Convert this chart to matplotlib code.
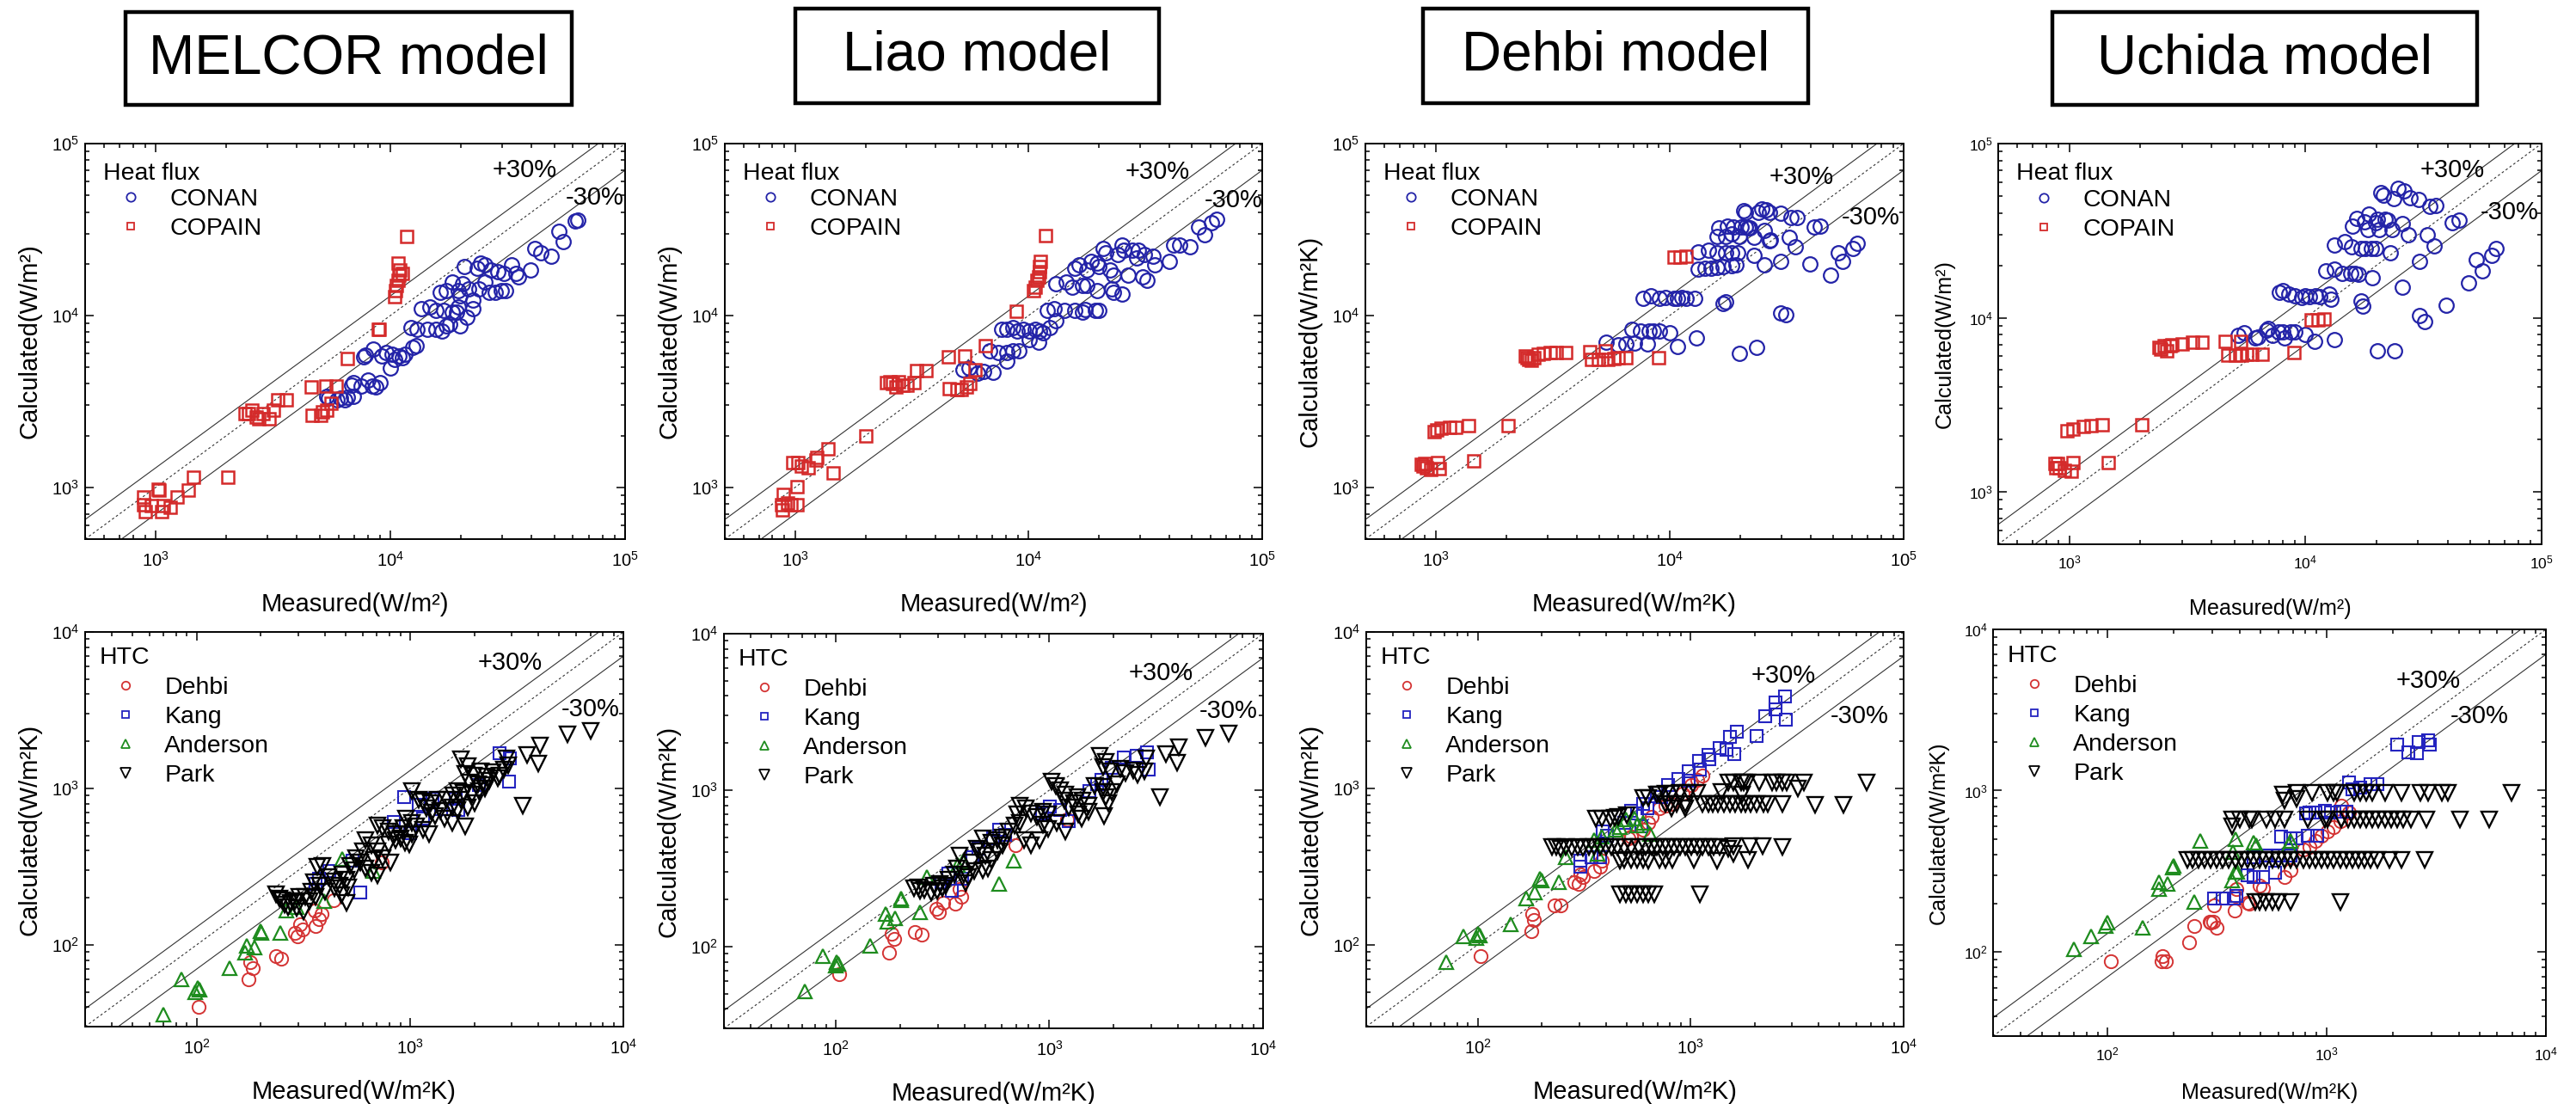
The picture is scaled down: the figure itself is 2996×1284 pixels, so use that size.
import matplotlib
matplotlib.use("Agg")
import matplotlib.pyplot as plt
from matplotlib.lines import Line2D
from matplotlib.patches import Rectangle
from matplotlib.ticker import LogLocator, NullFormatter, LogFormatterSciNotation

plt.rcParams["font.family"] = ["Liberation Sans", "DejaVu Sans"]
plt.rcParams["mathtext.fontset"] = "custom"
plt.rcParams["mathtext.rm"] = "Liberation Sans"
plt.rcParams["mathtext.it"] = "Liberation Sans:italic"
plt.rcParams["mathtext.bf"] = "Liberation Sans:bold"
plt.rcParams["mathtext.default"] = "regular"

# ------------------------------------------------------------------ data
MODEL_TITLES = ["MELCOR model", "Liao model", "Dehbi model", "Uchida model"]
HF_SERIES = ["CONAN", "COPAIN"]
HTC_SERIES = ["Dehbi", "Kang", "Anderson", "Park"]
HF_LIMITS = (5e2, 1e5)
HTC_LIMITS = (30, 1e4)
BAND_FACTORS = [1.3, 1.0, 0.7]
BAND_LABELS = ["+30%", "-30%"]

# (measured, calculated) pairs
MELCOR_HF_CONAN = [
    (5350, 3400), (5450, 3320), (5910, 3240), (6150, 3320), (6410, 3240), (6540, 3360), (6950, 3400),
    (6810, 3910), (6950, 4060), (7530, 3870), (8010, 4190), (8340, 3870), (8680, 3820), (9040, 4060),
    (7690, 5750), (7850, 5910), (8440, 6400), (9220, 5820), (9600, 6100), (10200, 5970), (10420, 5560),
    (10840, 5820), (11520, 5970), (10000, 4940), (11290, 5690),
    (12490, 6550), (12840, 6710), (12240, 8490), (13000, 8280), (14390, 8280), (15600, 8280), (16570, 8080),
    (17250, 8690), (17950, 8890), (19870, 8690), (13540, 11000), (14680, 11250), (15600, 10730), (16900, 10730),
    (18310, 10480), (19080, 10480), (19460, 11250), (21110, 9770), (22440, 11000),
    (16250, 13580), (17250, 13890), (18310, 15630), (19460, 13890), (19870, 12950), (20270, 15270), (21540, 14220),
    (22440, 12360), (23830, 14220), (25330, 15630), (26380, 13580), (28020, 13580), (29780, 13890), (30990, 13890),
    (20690, 19310), (23360, 18860), (24320, 20240), (25330, 19770), (26910, 18420), (28590, 17990), (30380, 17570),
    (32940, 19770), (34300, 17570), (34990, 16760), (39470, 18420), (41100, 24440), (43670, 23290), (48290, 22230),
    (52340, 30920), (54550, 26830), (61530, 35560), (62800, 35900)]
MELCOR_HF_COPAIN = [
    (890, 880), (890, 790), (900, 720), (960, 780), (1020, 980), (1030, 960), (1060, 720), (1080, 780),
    (1150, 770), (1230, 880), (1380, 960), (1450, 1150), (2030, 1150),
    (2410, 2700), (2480, 2680), (2580, 2800), (2690, 2560), (2750, 2500), (2860, 2700), (3040, 2500),
    (3160, 2800), (3320, 3240), (3610, 3240),
    (4600, 3820), (4640, 2620), (5030, 2620), (5140, 2750), (5300, 3900), (5350, 2800), (5590, 3090), (5870, 3870),
    (6540, 5640), (8900, 8300), (8950, 8300),
    (10400, 12900), (10500, 13900), (10600, 14900), (10800, 16000), (10900, 17200), (11000, 18400),
    (11200, 17500), (10800, 20200), (11750, 28800)]

LIAO_HF_CONAN = [
    (5236, 4830), (5567, 4940), (6042, 4600), (6417, 4710), (7046, 4670),
    (6820, 6250), (7397, 6100), (8030, 6100), (8537, 6250), (9075, 6250), (8030, 5430),
    (7636, 8280), (8030, 8280), (8537, 8490), (8895, 8080), (9447, 8280), (10040, 8080), (10670, 8280),
    (11110, 8080), (10040, 7200), (11030, 7030), (11480, 7900),
    (12300, 8490), (13080, 9320), (12060, 10730), (12820, 10990), (14190, 10730), (15710, 10730),
    (17040, 10480), (17400, 10880), (19250, 10730), (20040, 10730),
    (13080, 15270), (14490, 15630), (15390, 14560), (17040, 14900), (17740, 14900), (19630, 14030),
    (22620, 14220), (23100, 13580), (25070, 13250),
    (15710, 18860), (16370, 19770), (17740, 18420), (18490, 20720), (19630, 20240), (20040, 19310),
    (20870, 24440), (21310, 23290), (22210, 18420), (23100, 17170), (24080, 22750), (25070, 25600),
    (25600, 23870), (26670, 17170), (27760, 23870), (28920, 21710), (29510, 23870), (30740, 16760),
    (31370, 22750), (31990, 15990), (34020, 22230), (34730, 19770), (40020, 20720), (41690, 25600),
    (44330, 25600), (49090, 25000), (53230, 32690), (56600, 29450), (60860, 34730), (63950, 36390)]
LIAO_HF_COPAIN = [
    (874, 790), (885, 740), (892, 910), (929, 810), (960, 790), (1016, 790), (1016, 1010), (976, 1390),
    (1029, 1400), (1063, 1330), (1140, 1300), (1225, 1450), (1236, 1490), (1385, 1680), (1454, 1210),
    (2014, 2000), (2470, 4060), (2550, 4100), (2620, 4000), (2700, 3820), (2770, 4100), (2900, 3940),
    (3025, 3910), (3216, 4060), (3306, 4760), (3631, 4760), (4544, 5750), (4579, 3760), (4929, 3730),
    (5134, 3730), (5302, 5820), (5409, 3850), (5609, 4000), (5869, 4830), (6548, 6710), (8888, 10580),
    (10450, 13890), (10670, 14560), (10890, 15990), (11000, 16760), (11110, 17990), (11150, 19310),
    (11200, 20720), (11810, 29180)]

DEHBI_HF_CONAN = [
    (5333, 7030), (6025, 6770), (6484, 6870), (7086, 6940), (8003, 6870), (10840, 6610), (13010, 7440),
    (19920, 6030), (23440, 6550),
    (6890, 8280), (7530, 8080), (8160, 8080), (8504, 8080), (9036, 8080), (10000, 7900),
    (7690, 12650), (8330, 12950), (9036, 12650), (9602, 12770), (10410, 12650), (10840, 12650),
    (11290, 12770), (11760, 12650), (12750, 12530), (16940, 11790), (17290, 12070),
    (29870, 10330), (31480, 10140),
    (13280, 18580), (14120, 18860), (15010, 18860), (15940, 19140), (16940, 19310), (18370, 19590),
    (19140, 19770), (25420, 19770), (29870, 20720), (39690, 20040), (48640, 17170), (52730, 23070),
    (54860, 20720), (60660, 24440), (63190, 26430),
    (13280, 23510), (14700, 23870), (15940, 23070), (17290, 23290), (18370, 23290), (19520, 23070),
    (22970, 22440), (26990, 27460), (32410, 28380), (34410, 25000),
    (15940, 28790), (16260, 32360), (17290, 28790), (17640, 33120), (18370, 29730), (18750, 32690),
    (19920, 28790), (20170, 32690), (21010, 32690), (21620, 32360), (22050, 32360), (22970, 28510),
    (25420, 31190), (26790, 27340),
    (20750, 40930), (21010, 39970), (23920, 39970), (24700, 41690), (25730, 41310), (26790, 39970),
    (29870, 39460), (33060, 37240), (35140, 37240), (41350, 32690), (43940, 33120)]
DEHBI_HF_COPAIN = [
    (868, 1360), (878, 1325), (896, 1380), (915, 1295), (952, 1265), (1020, 1400), (1033, 1280), (1458, 1420),
    (980, 2120), (1012, 2170), (1054, 2220), (1143, 2240), (1215, 2240), (1384, 2280), (2033, 2300),
    (2420, 5820), (2449, 5690), (2500, 5560), (2571, 5480), (2622, 5690), (2733, 5970), (2883, 6030),
    (3085, 6100), (3280, 6100), (3586, 6100),
    (4541, 6160), (4629, 5560), (4956, 5560), (5293, 6250), (5444, 5560), (5784, 5640), (6025, 5690),
    (6484, 5690), (8957, 5690), (10410, 21900), (11070, 21900), (11760, 22200)]

UCHIDA_HF_CONAN = [
    (5164, 7920), (5484, 8190), (6108, 7670), (6310, 7740), (6834, 8500), (6971, 8690), (7256, 7920),
    (7711, 8300), (8017, 8300), (8185, 7670), (8624, 8300), (9054, 8300), (10000, 8040), (10960, 7310),
    (13230, 7480),
    (7766, 14060), (8017, 14330), (8516, 13670), (9054, 13420), (9616, 13040), (10000, 13420),
    (10400, 13220), (11040, 13420), (11500, 13220), (12560, 13670), (12870, 12800),
    (17170, 12450), (17510, 11660), (19200, 16930), (20160, 6490), (23840, 6430), (25630, 15010),
    (30310, 10330), (31920, 9545), (39510, 11780), (48990, 15930),
    (12210, 18560), (13230, 18930), (14340, 18060), (15540, 18060), (16180, 18060), (16830, 17730),
    (13230, 26230), (14630, 27480), (15720, 25410), (17170, 25060), (17870, 25060), (18980, 25060),
    (19760, 25060), (22910, 23680), (35000, 25990),
    (15850, 33570), (16490, 37400), (17730, 35700), (18600, 39170), (18450, 32040), (19760, 35230),
    (20160, 36900), (20560, 32040), (21830, 36900), (22270, 36390), (23180, 32040), (25630, 34700),
    (27200, 29920), (30310, 21090), (32870, 29920), (41810, 35230), (44550, 36390),
    (20810, 52350), (21400, 50620), (23650, 48080), (24600, 55380), (26140, 53580), (27750, 48780),
    (30040, 47670), (33640, 43450), (35560, 44050),
    (52680, 21580), (55950, 18560), (61350, 22820), (64370, 25060)]
UCHIDA_HF_COPAIN = [
    (869, 1450), (880, 1380), (894, 1460), (905, 1370), (953, 1330), (1020, 1315), (1033, 1480), (1463, 1480),
    (980, 2250), (1041, 2300), (1150, 2380), (1236, 2390), (1377, 2415), (2030, 2440),
    (2395, 6730), (2442, 6580), (2513, 6890), (2594, 6430), (2667, 6890), (2721, 6990), (3006, 7050),
    (3323, 7215), (3633, 7215),
    (4581, 7310), (4674, 6120), (5061, 6070), (5333, 7310), (5375, 6070), (5639, 6180), (5937, 6180),
    (6564, 6180), (8970, 6280), (10530, 9680), (11280, 9770), (11970, 9860)]

MELCOR_HTC_DEHBI = [
    (102, 40), (175, 60), (178, 78), (183, 71), (236, 85), (250, 82), (290, 119), (298, 113), (305, 135),
    (315, 125), (360, 132), (376, 146), (385, 158), (357, 166), (440, 194), (735, 336)]
MELCOR_HTC_KANG = [
    (584, 216), (2620, 1680), (2930, 1560), (2910, 1110), (2100, 1050), (1640, 860), (1680, 730), (840, 610),
    (940, 880), (1100, 790), (1150, 640), (540, 345), (420, 295), (376, 266), (360, 246), (1000, 520),
    (1280, 856), (1400, 733)]
MELCOR_HTC_ANDERSON = [
    (70, 36), (85, 60), (98, 50), (101, 53), (103, 52), (143, 71), (169, 89), (171, 99), (186, 96),
    (200, 123), (201, 119), (246, 119), (263, 166), (294, 175), (394, 190), (481, 354), (673, 295)]
MELCOR_HTC_PARK = [
    (7000, 2330), (5460, 2220), (4060, 1875), (3530, 1630), (4000, 1440), (3375, 780), (1811, 569),
    (1729, 1530), (1866, 1380), (1811, 1240), (1986, 1210), (2147, 1290), (2285, 1190), (2432, 1270),
    (2630, 1210), (2754, 1320), (2885, 1410), (2840, 1560), (1897, 1090), (2081, 1070), (2249, 1050),
    (2356, 1120), (2588, 1160), (1675, 960), (1783, 940), (1958, 920), (2113, 960), (2249, 1000),
    (1599, 900), (1729, 850), (1866, 760), (2017, 810), (1575, 760), (1675, 730), (1019, 960), (1101, 850),
    (1154, 830), (1247, 810), (1348, 850), (1480, 850), (1390, 720), (1306, 670), (1456, 645), (1575, 606),
    (1190, 750), (1267, 700), (957, 645), (1019, 606), (1067, 570), (1154, 545), (1227, 512), (1019, 512),
    (928, 556), (702, 580), (746, 556), (794, 533), (845, 512), (900, 480), (943, 451), (859, 470),
    (988, 441), (794, 441), (620, 470), (659, 433), (702, 397), (746, 357), (807, 336), (680, 350),
    (601, 397), (556, 357), (582, 336), (620, 308), (659, 290), (702, 278), (522, 321), (547, 302),
    (483, 283), (506, 260), (514, 234), (469, 239), (441, 230), (389, 321), (366, 315), (414, 272),
    (441, 255), (354, 250), (377, 239), (401, 220), (343, 220), (323, 202), (303, 202), (290, 190),
    (276, 186), (259, 182), (244, 198), (236, 211), (252, 194), (268, 175), (294, 171), (318, 164),
    (338, 190), (360, 202), (475, 207), (506, 186)]

LIAO_HTC_DEHBI = [
    (104, 67), (177, 91), (182, 121), (188, 112), (234, 124), (252, 119), (296, 174), (305, 165),
    (319, 190), (364, 188), (386, 209), (381, 232), (692, 443), (1205, 653)]
LIAO_HTC_KANG = [
    (312, 257), (338, 293), (349, 226), (389, 271), (435, 370), (465, 421), (543, 491), (580, 559),
    (620, 517), (1008, 783), (1127, 744), (1537, 990), (1680, 1098), (1755, 1157), (1960, 1386),
    (2238, 1619), (2556, 1662), (2856, 1750), (2918, 1352), (1231, 637), (923, 706)]
LIAO_HTC_ANDERSON = [
    (72, 52), (87, 87), (100, 76), (101, 80), (103, 78), (145, 101), (172, 161), (174, 145), (189, 151),
    (202, 204), (203, 198), (248, 165), (267, 278), (372, 333), (395, 351), (580, 251), (684, 355)]
LIAO_HTC_PARK = [
    (6898, 2314), (5393, 2172), (4027, 1875), (3965, 1489), (3505, 1690), (3297, 900), (1807, 685),
    (1726, 1655), (1835, 1521), (1780, 1399), (1923, 1313), (2142, 1370), (2277, 1286), (2459, 1342),
    (2576, 1259), (2782, 1313), (2825, 1586), (1022, 1134), (1070, 1065), (1121, 1000), (1192, 939),
    (1348, 900), (1434, 863), (1525, 794), (1307, 828), (1229, 778), (1174, 863), (1622, 1065),
    (1780, 1050), (1950, 979), (2074, 1087), (1835, 900), (1893, 828), (1412, 658), (1525, 730),
    (1370, 700), (1780, 979), (728, 794), (774, 762), (823, 714), (876, 671), (932, 604), (991, 568),
    (1087, 618), (1192, 545), (903, 480), (823, 442), (763, 480), (706, 700), (728, 618), (685, 592),
    (644, 545), (606, 500), (569, 480), (535, 460), (488, 490), (459, 424), (473, 406), (503, 381),
    (535, 358), (518, 315), (488, 309), (444, 303), (418, 278), (399, 290), (381, 381), (370, 315),
    (358, 290), (337, 267), (317, 235), (298, 226), (280, 221), (259, 230), (244, 240), (233, 235),
    (248, 226), (289, 245), (307, 251), (327, 245), (405, 256), (432, 344), (606, 442), (569, 406),
    (991, 700), (932, 730)]

DEHBI_HTC_DEHBI = [
    (103, 85), (178, 123), (180, 158), (183, 144), (230, 178), (244, 178), (285, 250), (298, 244),
    (303, 283), (312, 273), (353, 296), (376, 315), (383, 345), (511, 480), (527, 491), (596, 545),
    (634, 605), (654, 659), (717, 748), (763, 780), (811, 796), (917, 923), (1006, 1048), (1070, 1140),
    (1138, 1211)]
DEHBI_HTC_KANG = [
    (2781, 3870), (2494, 3560), (2241, 2900), (2494, 3200), (2798, 2740), (1647, 2310), (1524, 2130),
    (2042, 2160), (1369, 1810), (1479, 1770), (1607, 1650), (1210, 1630), (1097, 1500), (1229, 1530),
    (976, 1290), (1104, 1320), (877, 1150), (976, 1120), (787, 1050), (695, 940), (728, 885), (596, 800),
    (624, 750), (561, 690), (527, 720), (488, 605), (588, 570), (406, 500), (387, 530), (303, 343),
    (303, 315), (376, 365), (343, 365)]
DEHBI_HTC_ANDERSON = [
    (71, 78), (86, 113), (99, 110), (100, 117), (102, 115), (143, 136), (169, 198), (185, 215),
    (197, 266), (200, 259), (240, 250), (260, 365), (364, 381), (353, 470), (382, 491), (445, 545),
    (466, 568), (495, 631), (543, 644), (561, 581), (644, 512), (596, 605)]
DEHBI_HTC_PARK = [
    (1501, 1090), (1595, 1090), (1724, 1090), (1778, 1090), (1835, 1090), (2107, 1090), (2422, 1090),
    (2537, 1090), (2693, 1090), (2823, 1090), (3194, 1000), (3395, 1090), (6677, 1090),
    (596, 870), (634, 870), (695, 920), (717, 920), (763, 930), (811, 930), (889, 940), (976, 940),
    (1070, 940), (1390, 950), (1750, 920),
    (763, 800), (799, 800), (863, 800), (946, 800), (1138, 800), (1210, 800), (1268, 800), (1348, 800),
    (1433, 800), (1524, 800), (1621, 800), (1724, 800), (1806, 800), (1920, 800), (2042, 800), (2207, 800),
    (2310, 800), (2693, 800), (3837, 790), (5221, 790), (811, 750), (946, 750),
    (359, 640), (382, 640), (419, 640), (439, 650), (459, 660), (500, 676),
    (223, 420), (233, 420), (244, 410), (260, 420), (276, 415), (294, 420), (312, 415), (332, 420),
    (353, 425), (376, 420), (400, 425), (425, 420), (452, 425), (488, 420), (527, 425), (569, 425),
    (615, 420), (654, 425), (695, 420), (739, 425), (787, 425), (836, 420), (889, 425), (946, 425),
    (1006, 425), (1070, 425), (1138, 420), (1210, 425), (1287, 420), (1369, 420), (1501, 410),
    (1595, 430), (1891, 430), (2173, 430), (2693, 420),
    (466, 345), (488, 350), (527, 350), (561, 350), (596, 350), (634, 345), (717, 350), (763, 350),
    (824, 350), (1038, 350), (1327, 345), (1595, 382), (1862, 350),
    (466, 211), (495, 211), (527, 211), (561, 211), (596, 211), (634, 211), (674, 211), (1104, 211)]

UCHIDA_HTC_DEHBI = [
    (103, 87), (176, 87), (178, 94), (184, 87), (235, 115), (249, 144), (292, 153), (302, 153), (315, 141),
    (379, 181), (388, 245), (441, 200), (295, 151), (305, 193), (382, 223), (435, 201), (495, 257),
    (512, 247), (641, 291), (684, 322), (780, 430), (832, 448), (888, 486), (947, 527), (1010, 561),
    (1077, 596), (1149, 647), (1267, 733), (1168, 811)]
UCHIDA_HTC_KANG = [
    (2094, 1920), (2346, 1730), (2585, 1700), (2626, 2000), (2893, 2040), (2941, 1920), (1267, 1130),
    (1308, 1020), (1419, 1040), (1589, 1100), (1695, 1100), (805, 720), (832, 733), (888, 733), (978, 750),
    (1043, 733), (1149, 738), (1226, 738), (621, 517), (684, 506), (731, 506), (818, 527), (902, 527),
    (464, 388), (528, 396), (601, 396), (684, 396), (435, 297), (464, 291), (512, 291), (582, 309),
    (305, 214), (336, 214), (376, 214), (388, 223)]
UCHIDA_HTC_ANDERSON = [
    (70, 104), (84, 124), (98, 144), (100, 152), (145, 141), (171, 271), (171, 245), (188, 264), (198, 332),
    (200, 341), (249, 205), (265, 485), (371, 278), (373, 417), (383, 498), (383, 315), (391, 315),
    (465, 473), (475, 461), (670, 461), (685, 485)]
UCHIDA_HTC_PARK = [
    (631, 950), (731, 975), (859, 975), (1010, 975), (1077, 975), (1113, 975), (1329, 975), (1419, 975),
    (1514, 975), (1615, 975), (1838, 975), (2196, 975), (2668, 975), (2893, 975), (3346, 975), (3572, 975),
    (6936, 975), (731, 890), (640, 870),
    (370, 661), (401, 661), (442, 661), (457, 661), (529, 661), (582, 661), (641, 661), (818, 661),
    (978, 661), (1010, 661), (1168, 661), (1247, 661), (1329, 661), (1419, 661), (1514, 661), (1615, 661),
    (1722, 661), (1838, 661), (1962, 661), (2094, 661), (2234, 661), (2422, 661), (2846, 661), (4064, 661),
    (5531, 661), (370, 600),
    (231, 372), (243, 372), (259, 372), (277, 372), (295, 372), (315, 372), (336, 372), (358, 372),
    (382, 372), (408, 372), (435, 372), (464, 372), (495, 372), (528, 372), (564, 372), (601, 372),
    (641, 372), (684, 372), (731, 372), (780, 372), (832, 372), (888, 372), (947, 372), (1010, 372),
    (1077, 372), (1149, 372), (1226, 372), (1308, 372), (1396, 372), (1489, 372), (1589, 372), (1695, 372),
    (1930, 372), (2196, 372), (2799, 372),
    (472, 205), (495, 205), (528, 205), (564, 205), (601, 205), (684, 205), (1149, 205)]

HF_DATA = [
    [MELCOR_HF_CONAN, MELCOR_HF_COPAIN],
    [LIAO_HF_CONAN, LIAO_HF_COPAIN],
    [DEHBI_HF_CONAN, DEHBI_HF_COPAIN],
    [UCHIDA_HF_CONAN, UCHIDA_HF_COPAIN],
]
HTC_DATA = [
    [MELCOR_HTC_DEHBI, MELCOR_HTC_KANG, MELCOR_HTC_ANDERSON, MELCOR_HTC_PARK],
    [LIAO_HTC_DEHBI, LIAO_HTC_KANG, LIAO_HTC_ANDERSON, LIAO_HTC_PARK],
    [DEHBI_HTC_DEHBI, DEHBI_HTC_KANG, DEHBI_HTC_ANDERSON, DEHBI_HTC_PARK],
    [UCHIDA_HTC_DEHBI, UCHIDA_HTC_KANG, UCHIDA_HTC_ANDERSON, UCHIDA_HTC_PARK],
]
HF_XLABELS = ["Measured(W/m²)", "Measured(W/m²)", "Measured(W/m²K)", "Measured(W/m²)"]
HF_YLABELS = ["Calculated(W/m²)", "Calculated(W/m²)", "Calculated(W/m²K)", "Calculated(W/m²)"]
HTC_XLABEL = "Measured(W/m²K)"
HTC_YLABEL = "Calculated(W/m²K)"

# ------------------------------------------------------------------ layout / style
W, H = 2996, 1284
fig = plt.figure(figsize=(W / 100, H / 100), dpi=100)

TITLE_BOXES = [(146, 14, 665, 122), (925, 10, 1348, 120), (1655, 10, 2103, 120), (2387, 14, 2881, 122)]
TOP_RECTS = [(99, 167, 727, 627), (843, 167, 1468, 627), (1588, 167, 2214, 627), (2324, 167, 2956, 633)]
BOT_RECTS = [(99, 735, 725, 1194), (842, 737, 1469, 1196), (1589, 735, 2214, 1194), (2318, 732, 2961, 1205)]
TOP_BAND_TXT = [[(0.814, 0.933), (0.944, 0.863)], [(0.805, 0.928), (0.946, 0.857)],
                [(0.811, 0.915), (0.938, 0.813)], [(0.835, 0.933), (0.941, 0.828)]]
BOT_BAND_TXT = [[(0.789, 0.921), (0.939, 0.804)], [(0.81, 0.90), (0.936, 0.804)],
                [(0.776, 0.889), (0.918, 0.786)], [(0.787, 0.873), (0.879, 0.786)]]
AXIS_FONT_SCALE = [1.0, 1.0, 1.0, 0.86]

HF_STYLE = [dict(marker="o", color="#2323a8", ms=12, mew=1.6),
            dict(marker="s", color="#d42a2a", ms=10, mew=1.8)]
HTC_STYLE = [dict(marker="o", color="#d43434", ms=11, mew=1.4),
             dict(marker="s", color="#2424c0", ms=9.5, mew=1.5),
             dict(marker="^", color="#1e8c1e", ms=12, mew=1.6),
             dict(marker="v", color="black", ms=13.5, mew=1.7)]
LEGEND_FS = 20.5
BAND_FS = 21


def px_rect(r):
    x0, y0, x1, y1 = r
    return [x0 / W, 1 - y1 / H, (x1 - x0) / W, (y1 - y0) / H]


def style_axes(ax, lims, fs, xlabel, ylabel, xl_y, yl_x):
    ax.set_xscale("log")
    ax.set_yscale("log")
    ax.set_xlim(*lims)
    ax.set_ylim(*lims)
    for axis in (ax.xaxis, ax.yaxis):
        axis.set_major_locator(LogLocator(base=10))
        axis.set_minor_locator(LogLocator(base=10, subs=range(2, 10)))
        axis.set_major_formatter(LogFormatterSciNotation())
        axis.set_minor_formatter(NullFormatter())
    ax.tick_params(which="both", direction="in", top=True, right=True, width=1.1)
    ax.tick_params(which="major", length=7)
    ax.tick_params(which="minor", length=3.5)
    ax.tick_params(axis="x", which="major", labelsize=14.5 * fs, pad=10 * fs)
    ax.tick_params(axis="y", which="major", labelsize=14.5 * fs, pad=5 * fs)
    for s in ax.spines.values():
        s.set_linewidth(1.4)
    ax.set_xlabel(xlabel, fontsize=21 * fs)
    ax.set_ylabel(ylabel, fontsize=21 * fs)
    ax.xaxis.set_label_coords(0.5, xl_y)
    ax.yaxis.set_label_coords(yl_x, 0.5)


def draw_bands(ax, lims, txt):
    xs = [lims[0], lims[1]]
    for f in BAND_FACTORS:
        ls = (0, (2.5, 2.5)) if f == 1.0 else "-"
        ax.plot(xs, [v * f for v in xs], color="#333333", lw=0.8, ls=ls, zorder=1)
    for (tx, ty), lab in zip(txt, BAND_LABELS):
        ax.text(tx, ty, lab, transform=ax.transAxes, ha="center", va="center", fontsize=BAND_FS)


def draw_legend(ax, title, names, styles, title_pos, anchor):
    ax.text(title_pos[0], title_pos[1], title, transform=ax.transAxes, ha="left", va="center",
            fontsize=LEGEND_FS)
    handles = [Line2D([], [], ls="none", marker=st["marker"], mfc="none", mec=st["color"],
                      ms=st["ms"] * 0.62, mew=1.3) for st in styles]
    ax.legend(handles, names, loc="upper left", bbox_to_anchor=anchor, frameon=False,
              fontsize=LEGEND_FS, handlelength=1.0, handletextpad=1.1, labelspacing=0.28,
              borderpad=0, borderaxespad=0)


for i in range(4):
    fs = AXIS_FONT_SCALE[i]
    # title box
    x0, y0, x1, y1 = TITLE_BOXES[i]
    fig.patches.append(Rectangle((x0 / W, 1 - y1 / H), (x1 - x0) / W, (y1 - y0) / H,
                                 transform=fig.transFigure, fill=False, lw=3.2, ec="black"))
    fig.text((x0 + x1) / 2 / W, 1 - (y0 + y1) / 2 / H, MODEL_TITLES[i], ha="center", va="center",
             fontsize=46)

    # heat-flux panel
    ax = fig.add_axes(px_rect(TOP_RECTS[i]))
    style_axes(ax, HF_LIMITS, fs, HF_XLABELS[i], HF_YLABELS[i], -0.135, -0.08)
    draw_bands(ax, HF_LIMITS, TOP_BAND_TXT[i])
    for pts, st in zip(HF_DATA[i], HF_STYLE):
        mx, cy = zip(*pts)
        ax.plot(mx, cy, ls="none", marker=st["marker"], mfc="none", mec=st["color"],
                ms=st["ms"], mew=st["mew"], zorder=3)
    draw_legend(ax, "Heat flux", HF_SERIES, HF_STYLE, (0.033, 0.924), (0.062, 0.887))

    # HTC panel
    ax = fig.add_axes(px_rect(BOT_RECTS[i]))
    style_axes(ax, HTC_LIMITS, fs, HTC_XLABEL, HTC_YLABEL, -0.135 if i < 3 else -0.115, -0.08)
    draw_bands(ax, HTC_LIMITS, BOT_BAND_TXT[i])
    for pts, st in zip(HTC_DATA[i], HTC_STYLE):
        mx, cy = zip(*pts)
        ax.plot(mx, cy, ls="none", marker=st["marker"], mfc="none", mec=st["color"],
                ms=st["ms"], mew=st["mew"], zorder=3)
    draw_legend(ax, "HTC", HTC_SERIES, HTC_STYLE, (0.026, 0.935), (0.052, 0.887))

fig.savefig("out.png", dpi=100)
